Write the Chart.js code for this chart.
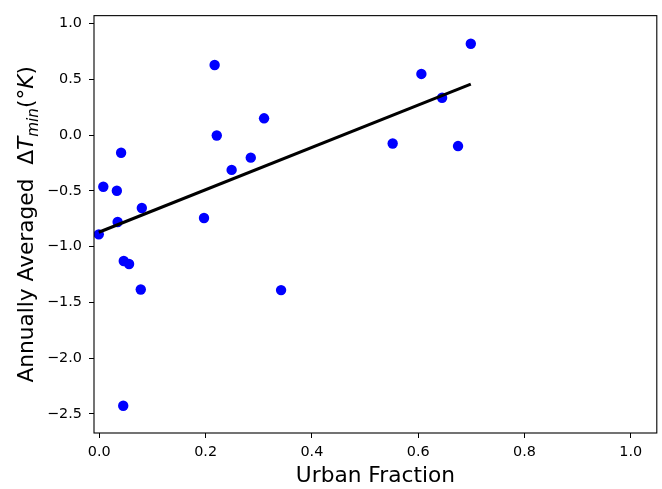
<!DOCTYPE html>
<html>
<head>
<meta charset="utf-8">
<script src="https://cdn.jsdelivr.net/npm/chart.js@4.4.1/dist/chart.umd.min.js"></script>
<style>
  html, body { margin: 0; padding: 0; background: #fff; }
  #wrap { width: 662px; height: 489px; }
</style>
</head>
<body>
<div id="wrap"><canvas id="c" width="662" height="489"></canvas></div>
<script>
// values
var urbanFrac = [-0.001, 0.0075, 0.033, 0.041, 0.0345, 0.080, 0.046, 0.056, 0.078, 0.045,
                 0.197, 0.217, 0.221, 0.249, 0.285, 0.310, 0.342, 0.552, 0.606, 0.645, 0.675, 0.699];
var dTmin = [-0.89, -0.463, -0.499, -0.158, -0.779, -0.654, -1.129, -1.156, -1.385, -2.428,
             -0.743, 0.629, -0.003, -0.312, -0.202, 0.151, -1.39, -0.075, 0.549, 0.335, -0.098, 0.82];

// fitted line end points
var fitX = [-0.001, 0.699];
var fitY = [-0.871, 0.457];

var xTicks = [0.0, 0.2, 0.4, 0.6, 0.8, 1.0];
var yTicks = [-2.5, -2.0, -1.5, -1.0, -0.5, 0.0, 0.5, 1.0];

var FONT = "'DejaVu Sans', sans-serif";

function pairs(xs, ys) {
    var out = [];
    for (var i = 0; i < xs.length; i++) out.push({ x: xs[i], y: ys[i] });
    return out;
}

function fmt(v) {
    return v.toFixed(1).replace('-', '\u2212');
}

// frame round the plot + y title with subscript
var framePlugin = {
    id: 'frame',
    afterDraw: function (chart) {
        var ctx = chart.ctx, a = chart.chartArea;
        ctx.save();
        ctx.strokeStyle = '#000';
        ctx.lineWidth = 1.1;
        ctx.strokeRect(a.left, a.top, a.right - a.left, a.bottom - a.top);
        ctx.restore();

        // y axis title
        var big = 21.7, small = 15.2;
        var parts = [
            { t: 'Annually Averaged  ', f: big + 'px ' + FONT, dy: 0 },
            { t: '\u0394', f: big + 'px ' + FONT, dy: 0 },
            { t: 'T', f: 'italic ' + big + 'px ' + FONT, dy: 0 },
            { t: 'min', f: 'italic ' + small + 'px ' + FONT, dy: 4.5 },
            { t: '(\u00b0', f: big + 'px ' + FONT, dy: 0 },
            { t: 'K', f: 'italic ' + big + 'px ' + FONT, dy: 0 },
            { t: ')', f: big + 'px ' + FONT, dy: 0 }
        ];
        ctx.save();
        var total = 0;
        parts.forEach(function (p) { ctx.font = p.f; p.w = ctx.measureText(p.t).width; total += p.w; });
        ctx.translate(0, (a.top + a.bottom) / 2);
        ctx.rotate(-Math.PI / 2);
        ctx.fillStyle = '#000';
        ctx.textBaseline = 'alphabetic';
        var x = -total / 2;
        parts.forEach(function (p) {
            ctx.font = p.f;
            ctx.fillText(p.t, x, 33 + p.dy);
            x += p.w;
        });
        ctx.restore();
    }
};

var ctx = document.getElementById('c').getContext('2d');
new Chart(ctx, {
    type: 'scatter',
    data: {
        datasets: [{
            type: 'line',
            data: pairs(fitX, fitY),
            borderColor: '#000',
            borderWidth: 3,
            pointRadius: 0,
            fill: false,
            order: 0
        }, {
            data: pairs(urbanFrac, dTmin),
            backgroundColor: '#0000ff',
            borderWidth: 0,
            pointRadius: 5.2,
            order: 1
        }]
    },
    options: {
        responsive: false,
        animation: false,
        layout: { padding: { top: 13, right: 3, left: 0, bottom: 0 } },
        plugins: {
            legend: { display: false },
            tooltip: { enabled: false }
        },
        scales: {
            x: {
                type: 'linear',
                min: -0.01,
                max: 1.049,
                afterFit: function (s) { s.height = 56; },
                afterBuildTicks: function (s) { s.ticks = xTicks.map(function (v) { return { value: v }; }); },
                border: { display: false },
                grid: { drawOnChartArea: false, drawTicks: true, tickLength: 5, color: '#000', tickWidth: 1 },
                ticks: {
                    color: '#000',
                    padding: 6,
                    maxRotation: 0,
                    font: { family: FONT, size: 14.4 },
                    callback: function (v) { return fmt(v); }
                },
                title: {
                    display: true,
                    text: 'Urban Fraction',
                    color: '#000',
                    padding: { top: 3, bottom: 0 },
                    font: { family: FONT, size: 21.7 }
                }
            },
            y: {
                type: 'linear',
                min: -2.672,
                max: 1.072,
                afterFit: function (s) { s.width = 94; },
                afterBuildTicks: function (s) { s.ticks = yTicks.map(function (v) { return { value: v }; }); },
                border: { display: false },
                grid: { drawOnChartArea: false, drawTicks: true, tickLength: 5, color: '#000', tickWidth: 1 },
                ticks: {
                    color: '#000',
                    padding: 7,
                    font: { family: FONT, size: 14.4 },
                    callback: function (v) { return fmt(v); }
                }
            }
        }
    },
    plugins: [framePlugin]
});
</script>
</body>
</html>
